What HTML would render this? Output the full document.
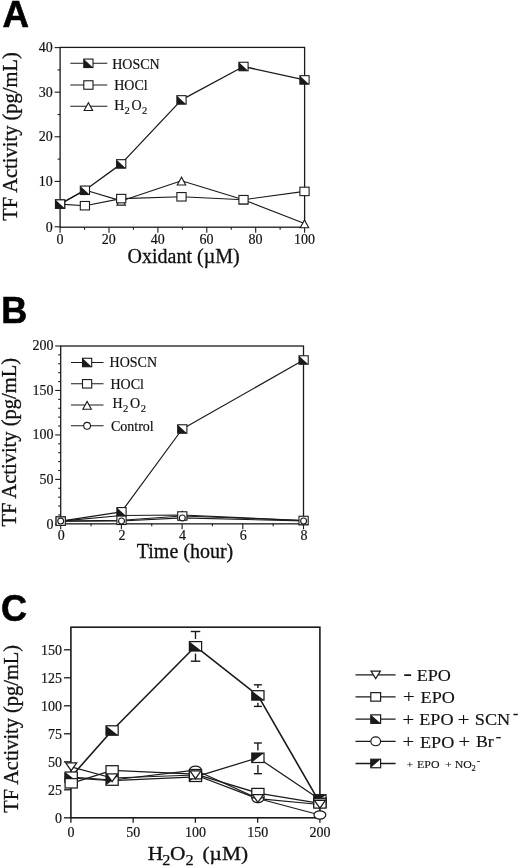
<!DOCTYPE html>
<html><head><meta charset="utf-8"><title>Figure</title>
<style>
html,body{margin:0;padding:0;background:#fff;}
svg{display:block;}
</style></head><body>
<svg width="520" height="868" viewBox="0 0 520 868">
<rect width="520" height="868" fill="#fff"/>
<g fill="#000" stroke="#000" stroke-width="0.6" font-family="'Liberation Sans', sans-serif" font-weight="bold" font-size="36">
<text transform="translate(2.6,26.5) scale(1.02,1)" x="0" y="0">A</text>
<text x="1.2" y="322.6">B</text>
<text x="1.0" y="621.1">C</text>
</g>
<rect x="60.1" y="47.4" width="244.50" height="179.80" fill="none" stroke="#1a1a1a" stroke-width="1.3"/>
<line x1="54.60" y1="226.80" x2="60.10" y2="226.80" stroke="#1a1a1a" stroke-width="1.1"/>
<text x="52.80" y="231.80" font-size="14" text-anchor="end" font-family="'Liberation Serif', serif" font-weight="normal" fill="#111" stroke="#111" stroke-width="0.18" >0</text>
<line x1="57.60" y1="203.70" x2="60.10" y2="203.70" stroke="#1a1a1a" stroke-width="1.1"/>
<line x1="54.60" y1="181.40" x2="60.10" y2="181.40" stroke="#1a1a1a" stroke-width="1.1"/>
<text x="52.80" y="185.70" font-size="14" text-anchor="end" font-family="'Liberation Serif', serif" font-weight="normal" fill="#111" stroke="#111" stroke-width="0.18" >10</text>
<line x1="57.60" y1="159.10" x2="60.10" y2="159.10" stroke="#1a1a1a" stroke-width="1.1"/>
<line x1="54.60" y1="136.80" x2="60.10" y2="136.80" stroke="#1a1a1a" stroke-width="1.1"/>
<text x="52.80" y="141.10" font-size="14" text-anchor="end" font-family="'Liberation Serif', serif" font-weight="normal" fill="#111" stroke="#111" stroke-width="0.18" >20</text>
<line x1="57.60" y1="114.50" x2="60.10" y2="114.50" stroke="#1a1a1a" stroke-width="1.1"/>
<line x1="54.60" y1="92.20" x2="60.10" y2="92.20" stroke="#1a1a1a" stroke-width="1.1"/>
<text x="52.80" y="96.50" font-size="14" text-anchor="end" font-family="'Liberation Serif', serif" font-weight="normal" fill="#111" stroke="#111" stroke-width="0.18" >30</text>
<line x1="57.60" y1="69.90" x2="60.10" y2="69.90" stroke="#1a1a1a" stroke-width="1.1"/>
<line x1="54.60" y1="47.60" x2="60.10" y2="47.60" stroke="#1a1a1a" stroke-width="1.1"/>
<text x="52.80" y="51.90" font-size="14" text-anchor="end" font-family="'Liberation Serif', serif" font-weight="normal" fill="#111" stroke="#111" stroke-width="0.18" >40</text>
<line x1="60.10" y1="227.20" x2="60.10" y2="232.70" stroke="#1a1a1a" stroke-width="1.1"/>
<text x="59.90" y="244.00" font-size="14" text-anchor="middle" font-family="'Liberation Serif', serif" font-weight="normal" fill="#111" stroke="#111" stroke-width="0.18" >0</text>
<line x1="84.55" y1="227.20" x2="84.55" y2="229.70" stroke="#1a1a1a" stroke-width="1.1"/>
<line x1="109.00" y1="227.20" x2="109.00" y2="232.70" stroke="#1a1a1a" stroke-width="1.1"/>
<text x="108.80" y="244.00" font-size="14" text-anchor="middle" font-family="'Liberation Serif', serif" font-weight="normal" fill="#111" stroke="#111" stroke-width="0.18" >20</text>
<line x1="133.45" y1="227.20" x2="133.45" y2="229.70" stroke="#1a1a1a" stroke-width="1.1"/>
<line x1="157.90" y1="227.20" x2="157.90" y2="232.70" stroke="#1a1a1a" stroke-width="1.1"/>
<text x="157.70" y="244.00" font-size="14" text-anchor="middle" font-family="'Liberation Serif', serif" font-weight="normal" fill="#111" stroke="#111" stroke-width="0.18" >40</text>
<line x1="182.35" y1="227.20" x2="182.35" y2="229.70" stroke="#1a1a1a" stroke-width="1.1"/>
<line x1="206.80" y1="227.20" x2="206.80" y2="232.70" stroke="#1a1a1a" stroke-width="1.1"/>
<text x="206.60" y="244.00" font-size="14" text-anchor="middle" font-family="'Liberation Serif', serif" font-weight="normal" fill="#111" stroke="#111" stroke-width="0.18" >60</text>
<line x1="231.25" y1="227.20" x2="231.25" y2="229.70" stroke="#1a1a1a" stroke-width="1.1"/>
<line x1="255.70" y1="227.20" x2="255.70" y2="232.70" stroke="#1a1a1a" stroke-width="1.1"/>
<text x="255.50" y="244.00" font-size="14" text-anchor="middle" font-family="'Liberation Serif', serif" font-weight="normal" fill="#111" stroke="#111" stroke-width="0.18" >80</text>
<line x1="280.15" y1="227.20" x2="280.15" y2="229.70" stroke="#1a1a1a" stroke-width="1.1"/>
<line x1="304.60" y1="227.20" x2="304.60" y2="232.70" stroke="#1a1a1a" stroke-width="1.1"/>
<text x="304.40" y="244.00" font-size="14" text-anchor="middle" font-family="'Liberation Serif', serif" font-weight="normal" fill="#111" stroke="#111" stroke-width="0.18" >100</text>
<text x="183.60" y="263.00" font-size="20" text-anchor="middle" font-family="'Liberation Serif', serif" font-weight="normal" fill="#111" stroke="#111" stroke-width="0.3" >Oxidant (µM)</text>
<text transform="translate(17.3,136.45) rotate(-90)" font-size="20.5" text-anchor="middle" font-family="'Liberation Serif', serif" fill="#111" stroke="#111" stroke-width="0.3">TF Activity (pg/mL)</text>
<polyline points="60.10,204.10 84.90,190.00 121.20,200.90 181.50,180.80 243.50,199.70 304.50,223.50" fill="none" stroke="#1a1a1a" stroke-width="1.1" stroke-linejoin="round"/>
<polyline points="60.10,204.10 84.90,205.70 121.20,198.60 181.50,196.80 243.50,199.70 304.50,191.40" fill="none" stroke="#1a1a1a" stroke-width="1.1" stroke-linejoin="round"/>
<polyline points="60.10,204.10 84.90,190.30 121.20,163.90 181.50,99.90 243.50,66.50 304.50,79.90" fill="none" stroke="#1a1a1a" stroke-width="1.3" stroke-linejoin="round"/>
<polygon points="55.85,208.30 64.35,208.30 60.10,200.50" fill="#fff" stroke="#1a1a1a" stroke-width="1.1" stroke-linejoin="miter"/>
<polygon points="80.65,194.20 89.15,194.20 84.90,186.40" fill="#fff" stroke="#1a1a1a" stroke-width="1.1" stroke-linejoin="miter"/>
<polygon points="116.95,205.10 125.45,205.10 121.20,197.30" fill="#fff" stroke="#1a1a1a" stroke-width="1.1" stroke-linejoin="miter"/>
<polygon points="177.25,185.00 185.75,185.00 181.50,177.20" fill="#fff" stroke="#1a1a1a" stroke-width="1.1" stroke-linejoin="miter"/>
<polygon points="239.25,203.90 247.75,203.90 243.50,196.10" fill="#fff" stroke="#1a1a1a" stroke-width="1.1" stroke-linejoin="miter"/>
<polygon points="300.25,227.70 308.75,227.70 304.50,219.90" fill="#fff" stroke="#1a1a1a" stroke-width="1.1" stroke-linejoin="miter"/>
<rect x="55.50" y="199.87" width="9.2" height="8.464" fill="#fff" stroke="#1a1a1a" stroke-width="1.1"/>
<rect x="80.30" y="201.47" width="9.2" height="8.464" fill="#fff" stroke="#1a1a1a" stroke-width="1.1"/>
<rect x="116.60" y="194.37" width="9.2" height="8.464" fill="#fff" stroke="#1a1a1a" stroke-width="1.1"/>
<rect x="176.90" y="192.57" width="9.2" height="8.464" fill="#fff" stroke="#1a1a1a" stroke-width="1.1"/>
<rect x="238.90" y="195.47" width="9.2" height="8.464" fill="#fff" stroke="#1a1a1a" stroke-width="1.1"/>
<rect x="299.90" y="187.17" width="9.2" height="8.464" fill="#fff" stroke="#1a1a1a" stroke-width="1.1"/>
<rect x="55.50" y="199.87" width="9.2" height="8.464" fill="#fff" stroke="#1a1a1a" stroke-width="1.1"/>
<polygon points="55.50,199.87 55.50,208.33 64.70,208.33" fill="#1a1a1a"/>
<rect x="80.30" y="186.07" width="9.2" height="8.464" fill="#fff" stroke="#1a1a1a" stroke-width="1.1"/>
<polygon points="80.30,186.07 80.30,194.53 89.50,194.53" fill="#1a1a1a"/>
<rect x="116.60" y="159.67" width="9.2" height="8.464" fill="#fff" stroke="#1a1a1a" stroke-width="1.1"/>
<polygon points="116.60,159.67 116.60,168.13 125.80,168.13" fill="#1a1a1a"/>
<rect x="176.90" y="95.67" width="9.2" height="8.464" fill="#fff" stroke="#1a1a1a" stroke-width="1.1"/>
<polygon points="176.90,95.67 176.90,104.13 186.10,104.13" fill="#1a1a1a"/>
<rect x="238.90" y="62.27" width="9.2" height="8.464" fill="#fff" stroke="#1a1a1a" stroke-width="1.1"/>
<polygon points="238.90,62.27 238.90,70.73 248.10,70.73" fill="#1a1a1a"/>
<rect x="299.90" y="75.67" width="9.2" height="8.464" fill="#fff" stroke="#1a1a1a" stroke-width="1.1"/>
<polygon points="299.90,75.67 299.90,84.13 309.10,84.13" fill="#1a1a1a"/>
<line x1="70.30" y1="63.30" x2="107.30" y2="63.30" stroke="#1a1a1a" stroke-width="1.1"/>
<rect x="83.80" y="59.07" width="9.2" height="8.464" fill="#fff" stroke="#1a1a1a" stroke-width="1.1"/>
<polygon points="83.80,59.07 83.80,67.53 93.00,67.53" fill="#1a1a1a"/>
<line x1="70.30" y1="85.00" x2="107.30" y2="85.00" stroke="#1a1a1a" stroke-width="1.1"/>
<rect x="83.80" y="80.77" width="9.2" height="8.464" fill="#fff" stroke="#1a1a1a" stroke-width="1.1"/>
<line x1="70.30" y1="106.30" x2="107.30" y2="106.30" stroke="#1a1a1a" stroke-width="1.1"/>
<polygon points="84.15,110.50 92.65,110.50 88.40,102.70" fill="#fff" stroke="#1a1a1a" stroke-width="1.1" stroke-linejoin="miter"/>
<text x="112.20" y="68.70" font-size="14" text-anchor="start" font-family="'Liberation Serif', serif" font-weight="normal" fill="#111" stroke="#111" stroke-width="0.18" >HOSCN</text>
<text x="114.20" y="90.15" font-size="14" text-anchor="start" font-family="'Liberation Serif', serif" font-weight="normal" fill="#111" stroke="#111" stroke-width="0.18" >HOCl</text>
<text transform="scale(1,1)" font-family="'Liberation Serif', serif" fill="#111" stroke="#111" stroke-width="0.18"><tspan x="114.20" y="110.00" font-size="14" stroke-width="0.18">H</tspan><tspan x="124.50" y="114.00" font-size="10.5" stroke-width="0.18">2</tspan><tspan x="131.60" y="110.00" font-size="14" stroke-width="0.18">O</tspan><tspan x="141.90" y="114.00" font-size="10.5" stroke-width="0.18">2</tspan></text>
<rect x="60.7" y="346.0" width="242.80" height="177.85" fill="none" stroke="#1a1a1a" stroke-width="1.3"/>
<line x1="55.20" y1="523.85" x2="60.70" y2="523.85" stroke="#1a1a1a" stroke-width="1.1"/>
<text x="53.40" y="529.45" font-size="14" text-anchor="end" font-family="'Liberation Serif', serif" font-weight="normal" fill="#111" stroke="#111" stroke-width="0.18" >0</text>
<line x1="58.20" y1="514.96" x2="60.70" y2="514.96" stroke="#1a1a1a" stroke-width="1.1"/>
<line x1="58.20" y1="506.06" x2="60.70" y2="506.06" stroke="#1a1a1a" stroke-width="1.1"/>
<line x1="58.20" y1="497.17" x2="60.70" y2="497.17" stroke="#1a1a1a" stroke-width="1.1"/>
<line x1="58.20" y1="488.28" x2="60.70" y2="488.28" stroke="#1a1a1a" stroke-width="1.1"/>
<line x1="55.20" y1="479.39" x2="60.70" y2="479.39" stroke="#1a1a1a" stroke-width="1.1"/>
<text x="53.40" y="483.69" font-size="14" text-anchor="end" font-family="'Liberation Serif', serif" font-weight="normal" fill="#111" stroke="#111" stroke-width="0.18" >50</text>
<line x1="58.20" y1="470.50" x2="60.70" y2="470.50" stroke="#1a1a1a" stroke-width="1.1"/>
<line x1="58.20" y1="461.60" x2="60.70" y2="461.60" stroke="#1a1a1a" stroke-width="1.1"/>
<line x1="58.20" y1="452.71" x2="60.70" y2="452.71" stroke="#1a1a1a" stroke-width="1.1"/>
<line x1="58.20" y1="443.82" x2="60.70" y2="443.82" stroke="#1a1a1a" stroke-width="1.1"/>
<line x1="55.20" y1="434.93" x2="60.70" y2="434.93" stroke="#1a1a1a" stroke-width="1.1"/>
<text x="53.40" y="439.23" font-size="14" text-anchor="end" font-family="'Liberation Serif', serif" font-weight="normal" fill="#111" stroke="#111" stroke-width="0.18" >100</text>
<line x1="58.20" y1="426.03" x2="60.70" y2="426.03" stroke="#1a1a1a" stroke-width="1.1"/>
<line x1="58.20" y1="417.14" x2="60.70" y2="417.14" stroke="#1a1a1a" stroke-width="1.1"/>
<line x1="58.20" y1="408.25" x2="60.70" y2="408.25" stroke="#1a1a1a" stroke-width="1.1"/>
<line x1="58.20" y1="399.36" x2="60.70" y2="399.36" stroke="#1a1a1a" stroke-width="1.1"/>
<line x1="55.20" y1="390.46" x2="60.70" y2="390.46" stroke="#1a1a1a" stroke-width="1.1"/>
<text x="53.40" y="394.76" font-size="14" text-anchor="end" font-family="'Liberation Serif', serif" font-weight="normal" fill="#111" stroke="#111" stroke-width="0.18" >150</text>
<line x1="58.20" y1="381.57" x2="60.70" y2="381.57" stroke="#1a1a1a" stroke-width="1.1"/>
<line x1="58.20" y1="372.68" x2="60.70" y2="372.68" stroke="#1a1a1a" stroke-width="1.1"/>
<line x1="58.20" y1="363.78" x2="60.70" y2="363.78" stroke="#1a1a1a" stroke-width="1.1"/>
<line x1="58.20" y1="354.89" x2="60.70" y2="354.89" stroke="#1a1a1a" stroke-width="1.1"/>
<line x1="55.20" y1="346.00" x2="60.70" y2="346.00" stroke="#1a1a1a" stroke-width="1.1"/>
<text x="53.40" y="350.30" font-size="14" text-anchor="end" font-family="'Liberation Serif', serif" font-weight="normal" fill="#111" stroke="#111" stroke-width="0.18" >200</text>
<line x1="60.70" y1="523.85" x2="60.70" y2="529.35" stroke="#1a1a1a" stroke-width="1.1"/>
<text x="61.20" y="539.80" font-size="14" text-anchor="middle" font-family="'Liberation Serif', serif" font-weight="normal" fill="#111" stroke="#111" stroke-width="0.18" >0</text>
<line x1="91.05" y1="523.85" x2="91.05" y2="526.35" stroke="#1a1a1a" stroke-width="1.1"/>
<line x1="121.40" y1="523.85" x2="121.40" y2="529.35" stroke="#1a1a1a" stroke-width="1.1"/>
<text x="121.90" y="539.80" font-size="14" text-anchor="middle" font-family="'Liberation Serif', serif" font-weight="normal" fill="#111" stroke="#111" stroke-width="0.18" >2</text>
<line x1="151.75" y1="523.85" x2="151.75" y2="526.35" stroke="#1a1a1a" stroke-width="1.1"/>
<line x1="182.10" y1="523.85" x2="182.10" y2="529.35" stroke="#1a1a1a" stroke-width="1.1"/>
<text x="182.60" y="539.80" font-size="14" text-anchor="middle" font-family="'Liberation Serif', serif" font-weight="normal" fill="#111" stroke="#111" stroke-width="0.18" >4</text>
<line x1="212.45" y1="523.85" x2="212.45" y2="526.35" stroke="#1a1a1a" stroke-width="1.1"/>
<line x1="242.80" y1="523.85" x2="242.80" y2="529.35" stroke="#1a1a1a" stroke-width="1.1"/>
<text x="243.30" y="539.80" font-size="14" text-anchor="middle" font-family="'Liberation Serif', serif" font-weight="normal" fill="#111" stroke="#111" stroke-width="0.18" >6</text>
<line x1="273.15" y1="523.85" x2="273.15" y2="526.35" stroke="#1a1a1a" stroke-width="1.1"/>
<line x1="303.50" y1="523.85" x2="303.50" y2="529.35" stroke="#1a1a1a" stroke-width="1.1"/>
<text x="304.00" y="539.80" font-size="14" text-anchor="middle" font-family="'Liberation Serif', serif" font-weight="normal" fill="#111" stroke="#111" stroke-width="0.18" >8</text>
<text x="185.00" y="558.00" font-size="20" text-anchor="middle" font-family="'Liberation Serif', serif" font-weight="normal" fill="#111" stroke="#111" stroke-width="0.3" >Time (hour)</text>
<text transform="translate(16.2,442.3) rotate(-90)" font-size="20.5" text-anchor="middle" font-family="'Liberation Serif', serif" fill="#111" stroke="#111" stroke-width="0.3">TF Activity (pg/mL)</text>
<polyline points="60.70,521.10 121.50,521.00 182.30,517.90 303.60,521.00" fill="none" stroke="#1a1a1a" stroke-width="1.1" stroke-linejoin="round"/>
<polyline points="60.70,521.10 121.50,515.50 182.30,515.00 303.60,520.50" fill="none" stroke="#1a1a1a" stroke-width="1.1" stroke-linejoin="round"/>
<polyline points="60.70,521.10 121.50,520.30 182.30,516.00 303.60,520.50" fill="none" stroke="#1a1a1a" stroke-width="1.1" stroke-linejoin="round"/>
<polyline points="60.70,521.10 121.50,511.80 182.30,429.00 303.60,360.00" fill="none" stroke="#1a1a1a" stroke-width="1.2" stroke-linejoin="round"/>
<polygon points="56.45,525.30 64.95,525.30 60.70,517.50" fill="#fff" stroke="#1a1a1a" stroke-width="1.1" stroke-linejoin="miter"/>
<polygon points="117.25,519.70 125.75,519.70 121.50,511.90" fill="#fff" stroke="#1a1a1a" stroke-width="1.1" stroke-linejoin="miter"/>
<polygon points="178.05,519.20 186.55,519.20 182.30,511.40" fill="#fff" stroke="#1a1a1a" stroke-width="1.1" stroke-linejoin="miter"/>
<polygon points="299.35,524.70 307.85,524.70 303.60,516.90" fill="#fff" stroke="#1a1a1a" stroke-width="1.1" stroke-linejoin="miter"/>
<rect x="56.10" y="516.87" width="9.2" height="8.464" fill="#fff" stroke="#1a1a1a" stroke-width="1.1"/>
<polygon points="56.10,516.87 56.10,525.33 65.30,525.33" fill="#1a1a1a"/>
<rect x="116.90" y="507.57" width="9.2" height="8.464" fill="#fff" stroke="#1a1a1a" stroke-width="1.1"/>
<polygon points="116.90,507.57 116.90,516.03 126.10,516.03" fill="#1a1a1a"/>
<rect x="177.70" y="424.77" width="9.2" height="8.464" fill="#fff" stroke="#1a1a1a" stroke-width="1.1"/>
<polygon points="177.70,424.77 177.70,433.23 186.90,433.23" fill="#1a1a1a"/>
<rect x="299.00" y="355.77" width="9.2" height="8.464" fill="#fff" stroke="#1a1a1a" stroke-width="1.1"/>
<polygon points="299.00,355.77 299.00,364.23 308.20,364.23" fill="#1a1a1a"/>
<rect x="56.10" y="516.87" width="9.2" height="8.464" fill="#fff" stroke="#1a1a1a" stroke-width="1.1"/>
<rect x="116.90" y="516.07" width="9.2" height="8.464" fill="#fff" stroke="#1a1a1a" stroke-width="1.1"/>
<rect x="177.70" y="511.77" width="9.2" height="8.464" fill="#fff" stroke="#1a1a1a" stroke-width="1.1"/>
<rect x="299.00" y="516.27" width="9.2" height="8.464" fill="#fff" stroke="#1a1a1a" stroke-width="1.1"/>
<ellipse cx="60.70" cy="521.10" rx="2.95" ry="2.95" fill="#fff" stroke="#1a1a1a" stroke-width="1.1"/>
<ellipse cx="121.50" cy="521.00" rx="2.95" ry="2.95" fill="#fff" stroke="#1a1a1a" stroke-width="1.1"/>
<ellipse cx="182.30" cy="517.90" rx="2.95" ry="2.95" fill="#fff" stroke="#1a1a1a" stroke-width="1.1"/>
<ellipse cx="303.60" cy="521.00" rx="2.95" ry="2.95" fill="#fff" stroke="#1a1a1a" stroke-width="1.1"/>
<line x1="71.00" y1="362.50" x2="103.50" y2="362.50" stroke="#1a1a1a" stroke-width="1.1"/>
<rect x="82.50" y="358.27" width="9.2" height="8.464" fill="#fff" stroke="#1a1a1a" stroke-width="1.1"/>
<polygon points="82.50,358.27 82.50,366.73 91.70,366.73" fill="#1a1a1a"/>
<line x1="71.00" y1="383.80" x2="103.50" y2="383.80" stroke="#1a1a1a" stroke-width="1.1"/>
<rect x="82.50" y="379.57" width="9.2" height="8.464" fill="#fff" stroke="#1a1a1a" stroke-width="1.1"/>
<line x1="71.00" y1="405.00" x2="103.50" y2="405.00" stroke="#1a1a1a" stroke-width="1.1"/>
<polygon points="82.85,409.20 91.35,409.20 87.10,401.40" fill="#fff" stroke="#1a1a1a" stroke-width="1.1" stroke-linejoin="miter"/>
<line x1="71.00" y1="425.80" x2="103.50" y2="425.80" stroke="#1a1a1a" stroke-width="1.1"/>
<ellipse cx="87.10" cy="425.80" rx="3.4" ry="3.4" fill="#fff" stroke="#1a1a1a" stroke-width="1.1"/>
<text x="109.60" y="367.10" font-size="14" text-anchor="start" font-family="'Liberation Serif', serif" font-weight="normal" fill="#111" stroke="#111" stroke-width="0.18" >HOSCN</text>
<text x="110.50" y="388.65" font-size="14" text-anchor="start" font-family="'Liberation Serif', serif" font-weight="normal" fill="#111" stroke="#111" stroke-width="0.18" >HOCl</text>
<text transform="scale(1,1)" font-family="'Liberation Serif', serif" fill="#111" stroke="#111" stroke-width="0.18"><tspan x="112.60" y="407.90" font-size="14" stroke-width="0.18">H</tspan><tspan x="122.90" y="412.30" font-size="10.5" stroke-width="0.18">2</tspan><tspan x="130.10" y="407.90" font-size="14" stroke-width="0.18">O</tspan><tspan x="140.80" y="412.30" font-size="10.5" stroke-width="0.18">2</tspan></text>
<text x="110.95" y="430.75" font-size="14" text-anchor="start" font-family="'Liberation Serif', serif" font-weight="normal" fill="#111" stroke="#111" stroke-width="0.18" >Control</text>
<rect x="70.9" y="627.2" width="249.00" height="190.60" fill="none" stroke="#1a1a1a" stroke-width="1.6"/>
<line x1="63.90" y1="817.80" x2="70.90" y2="817.80" stroke="#1a1a1a" stroke-width="1.3"/>
<text x="61.90" y="822.60" font-size="14" text-anchor="end" font-family="'Liberation Serif', serif" font-weight="normal" fill="#111" stroke="#111" stroke-width="0.18" >0</text>
<line x1="63.90" y1="789.80" x2="70.90" y2="789.80" stroke="#1a1a1a" stroke-width="1.3"/>
<text x="61.90" y="794.60" font-size="14" text-anchor="end" font-family="'Liberation Serif', serif" font-weight="normal" fill="#111" stroke="#111" stroke-width="0.18" >25</text>
<line x1="63.90" y1="761.80" x2="70.90" y2="761.80" stroke="#1a1a1a" stroke-width="1.3"/>
<text x="61.90" y="766.60" font-size="14" text-anchor="end" font-family="'Liberation Serif', serif" font-weight="normal" fill="#111" stroke="#111" stroke-width="0.18" >50</text>
<line x1="63.90" y1="733.80" x2="70.90" y2="733.80" stroke="#1a1a1a" stroke-width="1.3"/>
<text x="61.90" y="738.60" font-size="14" text-anchor="end" font-family="'Liberation Serif', serif" font-weight="normal" fill="#111" stroke="#111" stroke-width="0.18" >75</text>
<line x1="63.90" y1="705.80" x2="70.90" y2="705.80" stroke="#1a1a1a" stroke-width="1.3"/>
<text x="61.90" y="710.60" font-size="14" text-anchor="end" font-family="'Liberation Serif', serif" font-weight="normal" fill="#111" stroke="#111" stroke-width="0.18" >100</text>
<line x1="63.90" y1="677.80" x2="70.90" y2="677.80" stroke="#1a1a1a" stroke-width="1.3"/>
<text x="61.90" y="682.60" font-size="14" text-anchor="end" font-family="'Liberation Serif', serif" font-weight="normal" fill="#111" stroke="#111" stroke-width="0.18" >125</text>
<line x1="63.90" y1="649.80" x2="70.90" y2="649.80" stroke="#1a1a1a" stroke-width="1.3"/>
<text x="61.90" y="654.60" font-size="14" text-anchor="end" font-family="'Liberation Serif', serif" font-weight="normal" fill="#111" stroke="#111" stroke-width="0.18" >150</text>
<line x1="70.90" y1="817.80" x2="70.90" y2="822.80" stroke="#1a1a1a" stroke-width="1.3"/>
<text x="70.90" y="837.00" font-size="14" text-anchor="middle" font-family="'Liberation Serif', serif" font-weight="normal" fill="#111" stroke="#111" stroke-width="0.18" >0</text>
<line x1="133.15" y1="817.80" x2="133.15" y2="822.80" stroke="#1a1a1a" stroke-width="1.3"/>
<text x="133.15" y="837.00" font-size="14" text-anchor="middle" font-family="'Liberation Serif', serif" font-weight="normal" fill="#111" stroke="#111" stroke-width="0.18" >50</text>
<line x1="195.40" y1="817.80" x2="195.40" y2="822.80" stroke="#1a1a1a" stroke-width="1.3"/>
<text x="195.40" y="837.00" font-size="14" text-anchor="middle" font-family="'Liberation Serif', serif" font-weight="normal" fill="#111" stroke="#111" stroke-width="0.18" >100</text>
<line x1="257.65" y1="817.80" x2="257.65" y2="822.80" stroke="#1a1a1a" stroke-width="1.3"/>
<text x="257.65" y="837.00" font-size="14" text-anchor="middle" font-family="'Liberation Serif', serif" font-weight="normal" fill="#111" stroke="#111" stroke-width="0.18" >150</text>
<line x1="319.90" y1="817.80" x2="319.90" y2="822.80" stroke="#1a1a1a" stroke-width="1.3"/>
<text x="319.90" y="837.00" font-size="14" text-anchor="middle" font-family="'Liberation Serif', serif" font-weight="normal" fill="#111" stroke="#111" stroke-width="0.18" >200</text>
<text transform="scale(1.09,1)" font-family="'Liberation Serif', serif" fill="#111" stroke="#111" stroke-width="0.3"><tspan x="135.50" y="860.40" font-size="19.6" stroke-width="0.3">H</tspan><tspan x="148.90" y="865.00" font-size="15" stroke-width="0.25">2</tspan><tspan x="155.96" y="860.40" font-size="19.6" stroke-width="0.3">O</tspan><tspan x="170.09" y="865.00" font-size="15" stroke-width="0.25">2 </tspan><tspan x="185.78" y="860.40" font-size="19.6" stroke-width="0.3">(µM)</tspan></text>
<text transform="translate(17.8,728.8) rotate(-90)" font-size="20.4" text-anchor="middle" font-family="'Liberation Serif', serif" fill="#111" stroke="#111" stroke-width="0.3">TF Activity (pg/mL)</text>
<polyline points="71.20,778.00 112.10,780.60 195.50,776.80 257.90,757.80 319.90,799.40" fill="none" stroke="#1a1a1a" stroke-width="1.25" stroke-linejoin="round"/>
<polyline points="71.20,777.00 112.10,780.00 195.50,770.20 257.90,798.50 319.90,815.00" fill="none" stroke="#1a1a1a" stroke-width="1.25" stroke-linejoin="round"/>
<polyline points="71.20,776.70 112.10,730.50 195.50,646.30 257.90,695.40 319.90,802.80" fill="none" stroke="#1a1a1a" stroke-width="1.6" stroke-linejoin="round"/>
<polyline points="71.20,783.30 112.10,770.40 195.50,774.20 257.90,793.10 319.90,803.40" fill="none" stroke="#1a1a1a" stroke-width="1.25" stroke-linejoin="round"/>
<polyline points="71.20,766.90 112.10,778.00 195.50,775.00 257.90,798.70 319.90,804.50" fill="none" stroke="#1a1a1a" stroke-width="1.25" stroke-linejoin="round"/>
<line x1="195.50" y1="631.50" x2="195.50" y2="639.00" stroke="#1a1a1a" stroke-width="1.4"/>
<line x1="195.50" y1="653.60" x2="195.50" y2="661.20" stroke="#1a1a1a" stroke-width="1.4"/>
<line x1="190.75" y1="631.50" x2="200.25" y2="631.50" stroke="#1a1a1a" stroke-width="1.4"/>
<line x1="190.75" y1="661.20" x2="200.25" y2="661.20" stroke="#1a1a1a" stroke-width="1.4"/>
<line x1="257.90" y1="684.80" x2="257.90" y2="688.10" stroke="#1a1a1a" stroke-width="1.4"/>
<line x1="257.90" y1="702.70" x2="257.90" y2="706.40" stroke="#1a1a1a" stroke-width="1.4"/>
<line x1="253.90" y1="684.80" x2="261.90" y2="684.80" stroke="#1a1a1a" stroke-width="1.4"/>
<line x1="253.90" y1="706.40" x2="261.90" y2="706.40" stroke="#1a1a1a" stroke-width="1.4"/>
<line x1="257.90" y1="743.00" x2="257.90" y2="750.50" stroke="#1a1a1a" stroke-width="1.4"/>
<line x1="257.90" y1="765.10" x2="257.90" y2="773.70" stroke="#1a1a1a" stroke-width="1.4"/>
<line x1="253.90" y1="743.00" x2="261.90" y2="743.00" stroke="#1a1a1a" stroke-width="1.4"/>
<line x1="253.90" y1="773.70" x2="261.90" y2="773.70" stroke="#1a1a1a" stroke-width="1.4"/>
<ellipse cx="71.20" cy="777.00" rx="5.9" ry="4.1" fill="#fff" stroke="#1a1a1a" stroke-width="1.25"/>
<ellipse cx="112.10" cy="780.00" rx="5.9" ry="4.1" fill="#fff" stroke="#1a1a1a" stroke-width="1.25"/>
<ellipse cx="195.50" cy="770.20" rx="5.9" ry="4.1" fill="#fff" stroke="#1a1a1a" stroke-width="1.25"/>
<ellipse cx="257.90" cy="798.50" rx="5.9" ry="4.1" fill="#fff" stroke="#1a1a1a" stroke-width="1.25"/>
<ellipse cx="319.90" cy="815.00" rx="5.9" ry="4.1" fill="#fff" stroke="#1a1a1a" stroke-width="1.25"/>
<rect x="65.10" y="773.30" width="12.2" height="9.4" fill="#fff" stroke="#1a1a1a" stroke-width="1.25"/>
<polygon points="65.10,773.30 77.30,773.30 65.10,782.70" fill="#1a1a1a"/>
<rect x="106.00" y="775.90" width="12.2" height="9.4" fill="#fff" stroke="#1a1a1a" stroke-width="1.25"/>
<polygon points="106.00,775.90 118.20,775.90 106.00,785.30" fill="#1a1a1a"/>
<rect x="189.40" y="772.10" width="12.2" height="9.4" fill="#fff" stroke="#1a1a1a" stroke-width="1.25"/>
<polygon points="189.40,772.10 201.60,772.10 189.40,781.50" fill="#1a1a1a"/>
<rect x="251.80" y="753.10" width="12.2" height="9.4" fill="#fff" stroke="#1a1a1a" stroke-width="1.25"/>
<polygon points="251.80,753.10 264.00,753.10 251.80,762.50" fill="#1a1a1a"/>
<rect x="313.80" y="794.70" width="12.2" height="9.4" fill="#fff" stroke="#1a1a1a" stroke-width="1.25"/>
<polygon points="313.80,794.70 326.00,794.70 313.80,804.10" fill="#1a1a1a"/>
<rect x="65.10" y="772.00" width="12.2" height="9.4" fill="#fff" stroke="#1a1a1a" stroke-width="1.25"/>
<polygon points="65.10,772.00 65.10,781.40 77.30,781.40" fill="#1a1a1a"/>
<rect x="106.00" y="725.80" width="12.2" height="9.4" fill="#fff" stroke="#1a1a1a" stroke-width="1.25"/>
<polygon points="106.00,725.80 106.00,735.20 118.20,735.20" fill="#1a1a1a"/>
<rect x="189.40" y="641.60" width="12.2" height="9.4" fill="#fff" stroke="#1a1a1a" stroke-width="1.25"/>
<polygon points="189.40,641.60 189.40,651.00 201.60,651.00" fill="#1a1a1a"/>
<rect x="251.80" y="690.70" width="12.2" height="9.4" fill="#fff" stroke="#1a1a1a" stroke-width="1.25"/>
<polygon points="251.80,690.70 251.80,700.10 264.00,700.10" fill="#1a1a1a"/>
<rect x="313.80" y="798.10" width="12.2" height="9.4" fill="#fff" stroke="#1a1a1a" stroke-width="1.25"/>
<polygon points="313.80,798.10 313.80,807.50 326.00,807.50" fill="#1a1a1a"/>
<rect x="65.10" y="778.60" width="12.2" height="9.4" fill="#fff" stroke="#1a1a1a" stroke-width="1.25"/>
<rect x="106.00" y="765.70" width="12.2" height="9.4" fill="#fff" stroke="#1a1a1a" stroke-width="1.25"/>
<rect x="189.40" y="769.50" width="12.2" height="9.4" fill="#fff" stroke="#1a1a1a" stroke-width="1.25"/>
<rect x="251.80" y="788.40" width="12.2" height="9.4" fill="#fff" stroke="#1a1a1a" stroke-width="1.25"/>
<rect x="313.80" y="798.70" width="12.2" height="9.4" fill="#fff" stroke="#1a1a1a" stroke-width="1.25"/>
<polygon points="65.70,762.75 76.70,762.75 71.20,770.60" fill="#fff" stroke="#1a1a1a" stroke-width="1.25" stroke-linejoin="miter"/>
<polygon points="106.60,773.85 117.60,773.85 112.10,781.70" fill="#fff" stroke="#1a1a1a" stroke-width="1.25" stroke-linejoin="miter"/>
<polygon points="190.00,770.85 201.00,770.85 195.50,778.70" fill="#fff" stroke="#1a1a1a" stroke-width="1.25" stroke-linejoin="miter"/>
<polygon points="252.40,794.55 263.40,794.55 257.90,802.40" fill="#fff" stroke="#1a1a1a" stroke-width="1.25" stroke-linejoin="miter"/>
<polygon points="314.40,800.35 325.40,800.35 319.90,808.20" fill="#fff" stroke="#1a1a1a" stroke-width="1.25" stroke-linejoin="miter"/>
<line x1="355.50" y1="674.80" x2="395.60" y2="674.80" stroke="#1a1a1a" stroke-width="1.35"/>
<polygon points="371.00,671.10 380.40,671.10 375.70,678.60" fill="#fff" stroke="#1a1a1a" stroke-width="1.2" stroke-linejoin="miter"/>
<line x1="355.50" y1="696.90" x2="395.60" y2="696.90" stroke="#1a1a1a" stroke-width="1.35"/>
<rect x="370.80" y="692.65" width="9.8" height="8.5" fill="#fff" stroke="#1a1a1a" stroke-width="1.2"/>
<line x1="355.50" y1="719.10" x2="395.60" y2="719.10" stroke="#1a1a1a" stroke-width="1.35"/>
<rect x="370.80" y="714.85" width="9.8" height="8.5" fill="#fff" stroke="#1a1a1a" stroke-width="1.2"/>
<polygon points="370.80,714.85 370.80,723.35 380.60,723.35" fill="#1a1a1a"/>
<line x1="355.50" y1="741.30" x2="395.60" y2="741.30" stroke="#1a1a1a" stroke-width="1.35"/>
<ellipse cx="375.70" cy="741.30" rx="4.9" ry="4.45" fill="#fff" stroke="#1a1a1a" stroke-width="1.2"/>
<line x1="355.50" y1="763.50" x2="395.60" y2="763.50" stroke="#1a1a1a" stroke-width="1.35"/>
<rect x="370.80" y="759.25" width="9.8" height="8.5" fill="#fff" stroke="#1a1a1a" stroke-width="1.2"/>
<polygon points="370.80,759.25 380.60,759.25 370.80,767.75" fill="#1a1a1a"/>
<text transform="scale(1.1,1)" font-family="'Liberation Serif', serif" fill="#111" stroke="#111" stroke-width="0.15"><tspan x="366.55" y="681.30" font-size="24" stroke-width="0.0">- </tspan><tspan x="378.82" y="680.80" font-size="16.5" stroke-width="0.15">EPO</tspan></text>
<text transform="scale(1.1,1)" font-family="'Liberation Serif', serif" fill="#111" stroke="#111" stroke-width="0.15"><tspan x="366.09" y="703.40" font-size="19.5" stroke-width="0.02">+ </tspan><tspan x="382.36" y="703.20" font-size="16.5" stroke-width="0.15">EPO</tspan></text>
<text transform="scale(1.1,1)" font-family="'Liberation Serif', serif" fill="#111" stroke="#111" stroke-width="0.15"><tspan x="365.73" y="725.60" font-size="19.5" stroke-width="0.02">+ </tspan><tspan x="381.18" y="724.70" font-size="16.5" stroke-width="0.15">EPO </tspan><tspan x="416.00" y="725.60" font-size="19.5" stroke-width="0.02">+ </tspan><tspan x="431.64" y="724.70" font-size="16.6" stroke-width="0.15">SCN</tspan><tspan x="466.64" y="716.70" font-size="13" stroke-width="0.4">-</tspan></text>
<text transform="scale(1.1,1)" font-family="'Liberation Serif', serif" fill="#111" stroke="#111" stroke-width="0.15"><tspan x="365.73" y="748.30" font-size="19.5" stroke-width="0.02">+ </tspan><tspan x="381.82" y="747.80" font-size="16.5" stroke-width="0.15">EPO </tspan><tspan x="416.64" y="748.30" font-size="19.5" stroke-width="0.02">+ </tspan><tspan x="432.73" y="747.40" font-size="16.2" stroke-width="0.15">Br</tspan><tspan x="450.73" y="741.50" font-size="15" stroke-width="0.3">-</tspan></text>
<text transform="scale(1.05,1)" font-family="'Liberation Serif', serif" fill="#111" stroke="#111" stroke-width="0.12"><tspan x="387.14" y="768.00" font-size="11.3" stroke-width="0.12">+ </tspan><tspan x="397.24" y="768.00" font-size="11.3" stroke-width="0.12">EPO </tspan><tspan x="423.71" y="768.00" font-size="11.3" stroke-width="0.12">+ </tspan><tspan x="433.14" y="768.00" font-size="11.3" stroke-width="0.12">NO</tspan><tspan x="449.14" y="770.60" font-size="8" stroke-width="0.12">2</tspan><tspan x="454.29" y="763.80" font-size="8.5" stroke-width="0.35">-</tspan></text>
</svg>
</body></html>
